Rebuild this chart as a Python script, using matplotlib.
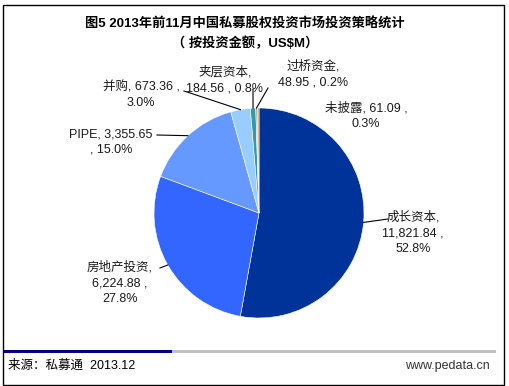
import numpy as np
import matplotlib
matplotlib.use("Agg")
import matplotlib.pyplot as plt
from matplotlib.patches import Rectangle

plt.rcParams['font.family'] = ['Liberation Sans', 'Noto Sans CJK SC', 'DejaVu Sans']

# Données
categories = ["成长资本", "房地产投资", "PIPE", "并购", "夹层资本", "过桥资金", "未披露"]
valeurs = [11821.84, 6224.88, 3355.65, 673.36, 184.56, 48.95, 61.09]
etiquettes = [
    "成长资本,\n11,821.84 ,\n52.8%",
    "房地产投资,\n6,224.88 ,\n27.8%",
    "PIPE, 3,355.65\n, 15.0%",
    "并购, 673.36 ,\n3.0%",
    "夹层资本,\n184.56 , 0.8%",
    "过桥资金,\n48.95 , 0.2%",
    "未披露, 61.09 ,\n0.3%",
]
couleurs = ["#003399", "#3366FF", "#6699FF", "#99CCFF", "#339AA6", "#A0A0A0", "#CC9966"]

titre = "图5 2013年前11月中国私募股权投资市场投资策略统计\n（ 按投资金额，US$M）"
source = "来源：私募通  2013.12"
site = "www.pedata.cn"

# Mise en page (pixels, origine en haut à gauche)
W, H = 510, 386
centre = (259, 213)
rayon = 105
pos_etiq = [(413, 233), (120, 283), (111, 142), (141, 95), (225, 80), (313, 74), (366, 116)]
pos_lien = [(388, 219), (160, 268), (157, 135), (184, 91), (253, 89), (268, 88), None]


def py(y):
    return H - y


fig = plt.figure(figsize=(W / 100, H / 100), dpi=100)
ax = fig.add_axes([0, 0, 1, 1])
ax.axis("off")

wedges, _ = ax.pie(valeurs, colors=couleurs, startangle=90, counterclock=False,
                   center=(centre[0], py(centre[1])), radius=rayon,
                   wedgeprops=dict(edgecolor="white", linewidth=0.4))
ax.set_xlim(0, W)
ax.set_ylim(0, H)
ax.set_aspect("auto")

for w, txt, (lx, ly), lien in zip(wedges, etiquettes, pos_etiq, pos_lien):
    ax.text(lx, py(ly), txt, ha="center", va="center", fontsize=9,
            color="#1a1a1a", linespacing=1.4)
    if lien is not None:
        ang = np.deg2rad((w.theta1 + w.theta2) / 2)
        ex = centre[0] + rayon * np.cos(ang)
        ey = py(centre[1]) + rayon * np.sin(ang)
        ax.plot([lien[0], ex], [py(lien[1]), ey], color="black", lw=0.8)

# Titre
ax.text(245, py(34), titre, ha="center", va="center", fontsize=9.5,
        fontweight="bold", linespacing=1.55)

# Cadre et barre du bas
ax.add_patch(Rectangle((3.5, py(384.5)), 500.5, 380, fill=False, ec="black", lw=1))
ax.add_patch(Rectangle((4, py(353)), 168, 3, color="#000080", lw=0))
ax.add_patch(Rectangle((172, py(353)), 324, 3, color="#C0C0C0", lw=0))
ax.text(8, py(366), source, ha="left", va="center", fontsize=9, color="black")
ax.text(490, py(366), site, ha="right", va="center", fontsize=9, color="#333333")

fig.savefig("out.png", dpi=100)
